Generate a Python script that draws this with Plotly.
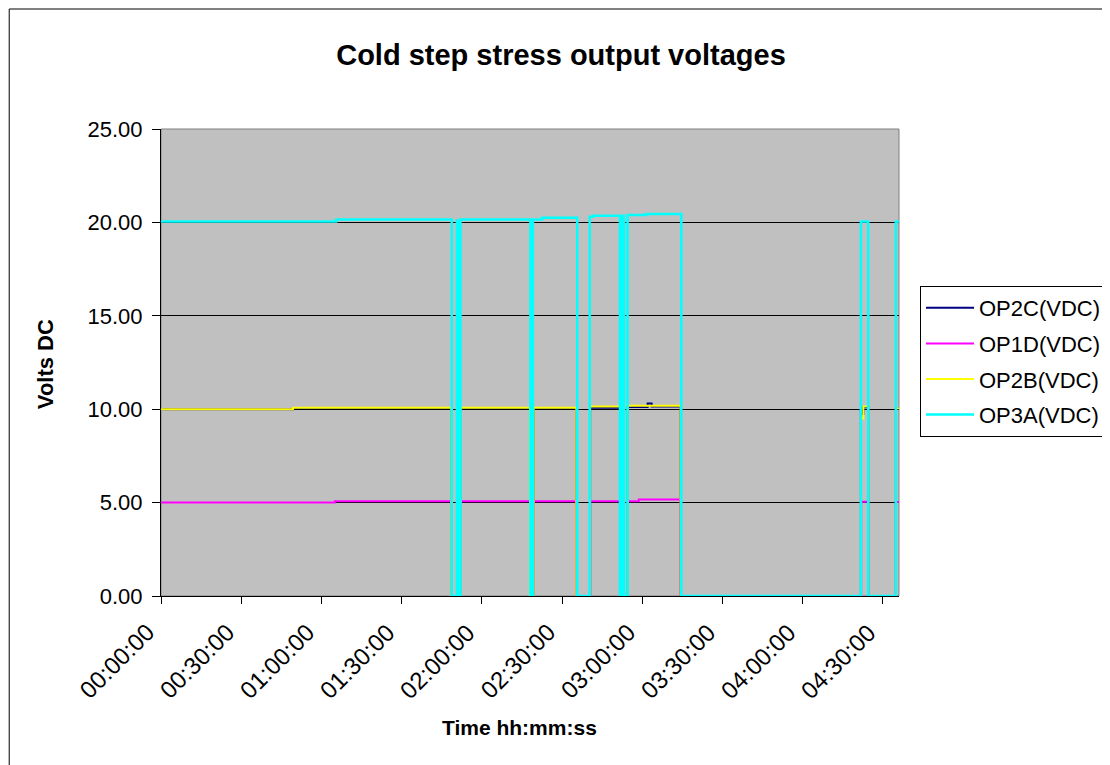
import plotly.graph_objects as go

# OP3A(VDC) - cyan
op3a_time = ["00:00:00", "01:05:30", "01:05:30", "01:48:45", "01:48:45", "01:50:40", "01:50:40",
             "01:51:20", "01:51:20", "01:52:00", "01:52:00", "02:18:10", "02:18:10", "02:19:05",
             "02:19:05", "02:22:35", "02:22:35", "02:35:40", "02:35:40", "02:40:20", "02:40:20",
             "02:41:30", "02:41:30", "02:51:40", "02:51:40", "02:52:30", "02:52:30", "02:53:10",
             "02:53:10", "02:54:30", "02:54:30", "03:01:25", "03:01:25", "03:14:35", "03:14:35",
             "04:21:45", "04:21:45", "04:24:30", "04:24:30", "04:34:50", "04:34:50", "04:36:00"]
op3a_volts = [20.05, 20.05, 20.15, 20.15, 0, 0, 20.1, 20.1, 0, 0, 20.15, 20.15, 0, 0,
              20.15, 20.15, 20.25, 20.25, 0, 0, 20.3, 20.3, 20.35, 20.35, 0, 0, 20.35, 20.35,
              0, 0, 20.4, 20.4, 20.45, 20.45, 0, 0, 20.05, 20.05, 0, 0, 20.05, 20.05]

# OP2B(VDC) - yellow
op2b_time = ["00:00:00", "00:49:20", "00:49:20", "01:48:35", "01:48:35", "01:52:00", "01:52:00",
             "02:18:00", "02:18:00", "02:19:20", "02:19:20", "02:35:20", "02:35:20", "02:40:30",
             "02:40:30", "02:51:40", "02:51:40", "02:54:30", "02:54:30", "03:14:20", "03:14:20",
             "04:21:45", "04:21:45", "04:22:40", "04:22:40", "04:24:30", "04:24:30", "04:34:50",
             "04:34:50", "04:36:00"]
op2b_volts = [10.0, 10.0, 10.08, 10.08, 0, 0, 10.08, 10.08, 0, 0, 10.08, 10.08, 0, 0,
              10.15, 10.15, 0, 0, 10.18, 10.18, 0, 0, 9.5, 9.5, 10.15, 10.15, 0, 0,
              10.05, 10.05]

# OP2C(VDC) - navy
op2c_time = ["00:00:00", "00:49:20", "00:49:20", "01:48:35", "01:48:35", "01:52:00", "01:52:00",
             "02:18:00", "02:18:00", "02:19:20", "02:19:20", "02:35:20", "02:35:20", "02:40:30",
             "02:40:30", "02:51:40", "02:51:40", "02:54:30", "02:54:30", "03:02:00", "03:02:00",
             "03:03:30", "03:03:30", "03:14:20", "03:14:20", "04:21:45", "04:21:45", "04:22:40",
             "04:22:40", "04:24:30", "04:24:30", "04:34:50", "04:34:50", "04:36:00"]
op2c_volts = [10.0, 10.0, 10.06, 10.06, 0, 0, 10.06, 10.06, 0, 0, 10.06, 10.06, 0, 0,
              10.08, 10.08, 0, 0, 10.12, 10.12, 10.3, 10.3, 10.15, 10.15, 0, 0, 10.0, 9.7,
              10.1, 10.1, 0, 0, 10.05, 10.05]

# OP1D(VDC) - magenta
op1d_time = ["00:00:00", "01:05:00", "01:05:00", "01:48:40", "01:48:40", "01:52:00", "01:52:00",
             "02:18:05", "02:18:05", "02:19:15", "02:19:15", "02:35:20", "02:35:20", "02:40:30",
             "02:40:30", "02:51:40", "02:51:40", "02:54:30", "02:54:30", "02:58:40", "02:58:40",
             "03:14:20", "03:14:20", "04:21:50", "04:21:50", "04:24:30", "04:24:30", "04:34:50",
             "04:34:50", "04:36:00"]
op1d_volts = [5.0, 5.0, 5.07, 5.07, 0, 0, 5.07, 5.07, 0, 0, 5.07, 5.07, 0, 0,
              5.07, 5.07, 0, 0, 5.07, 5.07, 5.17, 5.17, 0, 0, 5.05, 5.05, 0, 0,
              5.03, 5.03]

x_tick_labels = ["00:00:00", "00:30:00", "01:00:00", "01:30:00", "02:00:00",
                 "02:30:00", "03:00:00", "03:30:00", "04:00:00", "04:30:00"]
y_ticks = [0, 5, 10, 15, 20, 25]

DAY = "1970-01-01 "


def stamp(times):
    return [DAY + t for t in times]


series = [
    ("OP2C(VDC)", op2c_time, op2c_volts, "#000080", 2),
    ("OP1D(VDC)", op1d_time, op1d_volts, "#FF00FF", 2),
    ("OP2B(VDC)", op2b_time, op2b_volts, "#FFFF00", 2),
    ("OP3A(VDC)", op3a_time, op3a_volts, "#00FFFF", 2.5),
]

fig = go.Figure()
for name, times, volts, color, lw in series:
    fig.add_trace(
        go.Scatter(
            x=stamp(times),
            y=volts,
            mode="lines",
            name=name,
            legendgroup=name,
            line=dict(color=color, width=lw),
        )
    )

# page has an 8px body margin, so figure px = screen px - 8
W, H = 1110, 765
L, T, R, B = 153, 121, 892, 588   # plot area in figure px
pw, ph = R - L, B - T


def px(x):
    return (x - L) / pw


def py(y):
    return (B - y) / ph


font = "Arial, Liberation Sans, sans-serif"

fig.update_layout(
    width=W,
    height=H,
    margin=dict(l=L, r=W - R, t=T, b=H - B),
    paper_bgcolor="white",
    plot_bgcolor="#C0C0C0",
    font=dict(family=font, size=22, color="black"),
    title=dict(
        text="<b>Cold step stress output voltages</b>",
        font=dict(size=29, family=font, color="black"),
        x=553 / W,
        xref="container",
        xanchor="center",
        y=1 - 47 / H,
        yref="container",
        yanchor="middle",
    ),
    legend=dict(
        x=px(912),
        y=py(278),
        xanchor="left",
        yanchor="top",
        bordercolor="black",
        borderwidth=1,
        bgcolor="white",
        font=dict(size=22, family=font),
        tracegroupgap=4,
        itemwidth=48,
    ),
    showlegend=True,
)

fig.update_xaxes(
    range=[DAY + "00:00:00", DAY + "04:36:00"],
    tickvals=stamp(x_tick_labels),
    showticklabels=False,
    ticks="outside",
    ticklen=7,
    tickcolor="black",
    showline=True,
    linecolor="black",
    linewidth=1,
    showgrid=False,
    zeroline=False,
)

fig.update_yaxes(
    range=[0, 25],
    tickvals=y_ticks,
    tickformat=".2f",
    ticks="outside",
    ticklen=8,
    tickcolor="black",
    ticklabelstandoff=5,
    showline=True,
    linecolor="black",
    linewidth=1,
    showgrid=True,
    gridcolor="black",
    gridwidth=1,
    zeroline=False,
    tickfont=dict(size=22),
)

# rotated time labels, placed like Excel's (ending just left of each tick)
for lab in x_tick_labels:
    fig.add_annotation(text=lab, x=DAY + lab, xref="x", y=0, yref="paper",
                       textangle=-45, xanchor="center", yanchor="middle",
                       xshift=-45, yshift=-65, showarrow=False,
                       font=dict(size=24, family=font))

# plot-area border and outer chart border
fig.add_shape(type="rect", xref="paper", yref="paper", x0=0, x1=1, y0=0, y1=1,
              line=dict(color="#808080", width=1), layer="below")
fig.add_shape(type="rect", xref="paper", yref="paper",
              x0=px(1), x1=px(W + 20), y0=py(H + 20), y1=py(1),
              line=dict(color="black", width=1))

fig.add_annotation(text="<b>Volts DC</b>", xref="paper", yref="paper",
                   x=px(37), y=py(356), textangle=-90,
                   xanchor="center", yanchor="middle",
                   showarrow=False, font=dict(size=22, family=font))
fig.add_annotation(text="<b>Time hh:mm:ss</b>", xref="paper", yref="paper",
                   x=px(512), y=py(719),
                   xanchor="center", yanchor="middle",
                   showarrow=False, font=dict(size=21, family=font))

fig.write_html("out.html")
